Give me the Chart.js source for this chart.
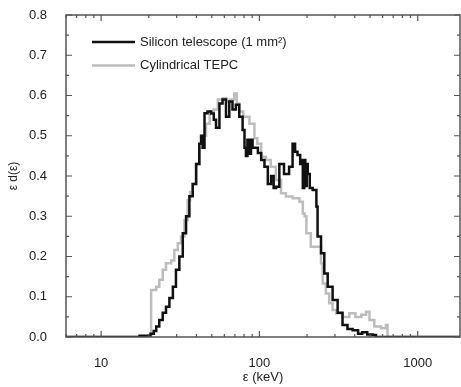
<!DOCTYPE html>
<html>
<head>
<meta charset="utf-8">
<script src="https://cdn.jsdelivr.net/npm/chart.js@4/dist/chart.umd.min.js"></script>
<style>
  html, body { margin: 0; padding: 0; background: #fff; }
  #wrap { width: 461px; height: 387px; }
</style>
</head>
<body>
<div id="wrap"><canvas id="chart"></canvas></div>
<script>
// lineal energy spectra, eps * d(eps)
const siliconEnergy = [6, 17.5, 20.5, 21.5, 22.3, 23.3, 24.5, 25.7, 27, 28.4, 29.7, 31.2, 32.8, 34.4, 36.1, 37.9,
    39.8, 41.7, 42.8, 43.8, 45, 47, 49.5, 51.5, 53.2, 55.9, 58.5, 61.5, 64.5, 67.6, 71, 74.6, 78.3, 80.5, 82.2,
    84, 86.5, 88.5, 90.5, 94, 97.8, 102.6, 107.6, 113, 118.5, 123, 127.4, 133.6, 143, 154, 162, 168, 174, 181,
    185, 188, 192, 195, 199, 202, 208, 217, 229, 233, 245, 257, 270, 290, 312, 335, 360, 388, 420, 446, 480,
    520, 545, 1850];
const siliconDose = [0, 0.003, 0.008, 0.015, 0.026, 0.042, 0.06, 0.075, 0.097, 0.125, 0.167, 0.2, 0.258, 0.3,
    0.35, 0.38, 0.43, 0.48, 0.5, 0.47, 0.556, 0.56, 0.555, 0.54, 0.52, 0.58, 0.59, 0.547, 0.585, 0.565, 0.577,
    0.547, 0.514, 0.47, 0.45, 0.49, 0.455, 0.49, 0.47, 0.47, 0.457, 0.44, 0.423, 0.38, 0.4, 0.37, 0.373, 0.43,
    0.405, 0.423, 0.48, 0.46, 0.452, 0.43, 0.44, 0.37, 0.44, 0.375, 0.43, 0.405, 0.37, 0.365, 0.324, 0.25,
    0.208, 0.158, 0.125, 0.092, 0.06, 0.03, 0.02, 0.017, 0.008, 0.012, 0.006, 0.005, 0, 0];

const tepcEnergy = [6, 20.7, 22.3, 23.3, 24.5, 25.7, 27.7, 29, 30.5, 32, 33.6, 35.2, 36.5, 37.9, 40, 42, 44, 46,
    48.5, 51.5, 54.6, 58.5, 62, 65, 69.3, 72, 74.6, 79, 86.5, 93, 97, 102.6, 110, 118, 127, 137, 147, 162, 179,
    188, 193, 198, 211, 233, 245, 251, 263, 276, 290, 305, 335, 370, 404, 440, 472, 496, 532, 587, 630, 645, 1850];
const tepcDose = [0, 0.117, 0.125, 0.142, 0.167, 0.183, 0.19, 0.216, 0.233, 0.25, 0.29, 0.34, 0.36, 0.38, 0.43,
    0.47, 0.5, 0.53, 0.56, 0.565, 0.59, 0.593, 0.585, 0.59, 0.605, 0.58, 0.56, 0.547, 0.53, 0.494, 0.48, 0.448,
    0.44, 0.423, 0.39, 0.357, 0.349, 0.345, 0.336, 0.307, 0.3, 0.258, 0.224, 0.224, 0.183, 0.133, 0.108, 0.084,
    0.067, 0.059, 0.05, 0.059, 0.05, 0.055, 0.063, 0.042, 0.026, 0.022, 0.03, 0, 0];

const seriesLabels = ['Silicon telescope (1 mm\u00b2)', 'Cylindrical TEPC'];
const seriesColors = ['#111111', '#bdbdbd'];
const decadeLabels = [10, 100, 1000];

const textColor = '#222';
const fontFamily = '"Liberation Sans", Arial, sans-serif';

// pairs two value arrays into {x, y} points
const toPoints = (xs, ys) => xs.map((x, i) => ({ x: x, y: ys[i] }));

/* draws the box frame with inward major / minor ticks on all four sides */
const frameTicks = {
    id: 'frameTicks',
    afterDatasetsDraw(chart) {
        const { ctx, chartArea: a, scales } = chart;
        const xs = scales.x;
        const ys = scales.y;

        ctx.save();
        ctx.strokeStyle = '#555';
        ctx.lineWidth = 1.5;
        ctx.strokeRect(a.left, a.top, a.right - a.left, a.bottom - a.top);

        ctx.lineWidth = 1.2;
        ctx.beginPath();
        for (let d = 1; d <= 1000; d *= 10) {
            for (let m = 1; m <= 9; m += 1) {
                const v = d * m;
                if (v < xs.min || v > xs.max) continue;
                const px = xs.getPixelForValue(v);
                const len = m === 1 ? 6 : 3;
                ctx.moveTo(px, a.bottom);
                ctx.lineTo(px, a.bottom - len);
                ctx.moveTo(px, a.top);
                ctx.lineTo(px, a.top + len);
            }
        }
        for (let i = 0; i <= 16; i += 1) {
            const py = ys.getPixelForValue(i * 0.05);
            const len = i % 2 === 0 ? 6 : 3;
            ctx.moveTo(a.left, py);
            ctx.lineTo(a.left + len, py);
            ctx.moveTo(a.right, py);
            ctx.lineTo(a.right - len, py);
        }
        ctx.stroke();
        ctx.restore();
    }
};

/* legend drawn inside the plot, upper left */
const insideLegend = {
    id: 'insideLegend',
    afterDraw(chart) {
        const { ctx } = chart;
        ctx.save();
        ctx.font = '13px ' + fontFamily;
        ctx.textBaseline = 'middle';
        seriesLabels.forEach((label, i) => {
            const y = 42 + i * 23.5;
            ctx.strokeStyle = seriesColors[i];
            ctx.lineWidth = 2.5;
            ctx.beginPath();
            ctx.moveTo(92, y);
            ctx.lineTo(135, y);
            ctx.stroke();
            ctx.fillStyle = textColor;
            ctx.fillText(label, 140, y);
        });
        ctx.restore();
    }
};

new Chart(document.getElementById('chart'), {
    type: 'line',
    data: {
        datasets: [
            {
                label: seriesLabels[0],
                data: toPoints(siliconEnergy, siliconDose),
                borderColor: seriesColors[0],
                borderWidth: 2.5,
                stepped: true,
                pointRadius: 0,
                fill: false
            },
            {
                label: seriesLabels[1],
                data: toPoints(tepcEnergy, tepcDose),
                borderColor: seriesColors[1],
                borderWidth: 2.5,
                stepped: true,
                pointRadius: 0,
                fill: false
            }
        ]
    },
    options: {
        responsive: true,
        maintainAspectRatio: false,
        animation: false,
        layout: { padding: { top: 15, right: 1, left: 0, bottom: 0 } },
        plugins: {
            legend: { display: false },
            tooltip: { enabled: false }
        },
        scales: {
            x: {
                type: 'logarithmic',
                min: 6,
                max: 1850,
                grid: { display: false },
                border: { display: false },
                afterFit: (scale) => {
                    scale.height = 50;
                    scale.paddingLeft = 0;
                    scale.paddingRight = 0;
                },
                ticks: {
                    autoSkip: false,
                    maxRotation: 0,
                    padding: 11,
                    color: textColor,
                    font: { family: fontFamily, size: 13 },
                    callback: (value) => decadeLabels.includes(value) ? String(value) : ''
                },
                title: {
                    display: true,
                    text: '\u03b5 (keV)',
                    color: textColor,
                    font: { family: fontFamily, size: 13 },
                    padding: { top: 2, bottom: 2 }
                }
            },
            y: {
                min: 0,
                max: 0.8,
                grid: { display: false },
                border: { display: false },
                afterFit: (scale) => {
                    scale.width = 66;
                    scale.paddingTop = 0;
                    scale.paddingBottom = 0;
                },
                ticks: {
                    stepSize: 0.1,
                    padding: 11,
                    color: textColor,
                    font: { family: fontFamily, size: 13 },
                    callback: (value) => value.toFixed(1)
                },
                title: {
                    display: true,
                    text: '\u03b5 d(\u03b5)',
                    color: textColor,
                    font: { family: fontFamily, size: 12 },
                    padding: { top: 6, bottom: 0 }
                }
            }
        }
    },
    plugins: [frameTicks, insideLegend]
});
</script>
</body>
</html>
